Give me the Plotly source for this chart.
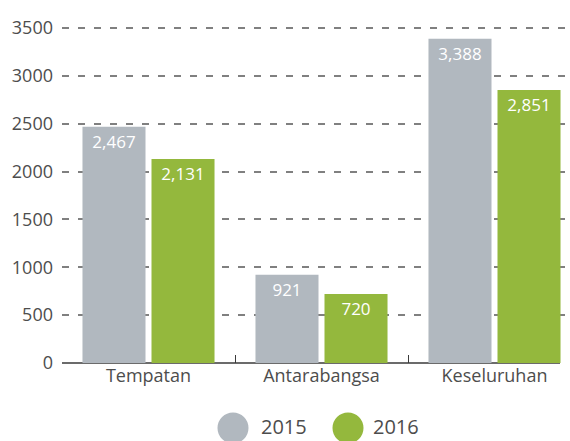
import plotly.graph_objects as go

categories = ["Tempatan", "Antarabangsa", "Keseluruhan"]
years = ["2015", "2016"]
values_2015 = [2467, 921, 3388]
values_2016 = [2131, 720, 2851]
y_ticks = [0, 500, 1000, 1500, 2000, 2500, 3000, 3500]

colors = {"2015": "#b1b8bf", "2016": "#94b83d"}
FONT = "Open Sans"
TEXT = "#4d4d4d"

W, H = 570, 441
ML, MR, MT, MB = 62, 0, 20, 78
PW, PH = W - ML - MR, H - MT - MB
# vertical scale: 3500 spans 335 px
YMAX = PH / (335 / 3500)
# category width 173 px, right side of plot clipped by the figure edge
XMAX = -0.5 + PW / 173

fig = go.Figure()
for year, vals in zip(years, [values_2015, values_2016]):
    fig.add_trace(go.Bar(
        x=categories, y=vals, name=year,
        marker=dict(color=colors[year], line=dict(width=0)),
        text=[f"{v:,}" for v in vals],
        textposition="inside", insidetextanchor="end", textangle=0,
        textfont=dict(family=FONT, size=17, color="white"),
        showlegend=False,
    ))

fig.update_layout(
    width=W, height=H,
    margin=dict(l=ML, r=MR, t=MT, b=MB),
    paper_bgcolor="white", plot_bgcolor="white",
    barmode="group", bargap=0.202, bargroupgap=0.087,
    font=dict(family=FONT, color=TEXT),
    xaxis=dict(
        range=[-0.5, XMAX], showgrid=False, showline=False,
        layer="below traces",
        ticks="inside", tickson="boundaries", ticklen=8,
        tickcolor="#3a3a3a", tickwidth=1.2,
        tickfont=dict(family=FONT, size=18, color=TEXT),
    ),
    yaxis=dict(
        range=[0, YMAX], tickvals=y_ticks,
        showgrid=True, gridcolor="#808080", gridwidth=1.5,
        griddash="7px,9px", zeroline=False, showline=False,
        ticks="", ticklabelstandoff=8,
        tickfont=dict(family=FONT, size=18, color=TEXT),
    ),
)

# baseline along the bottom of the plot, ending at the last bar's edge
fig.add_shape(
    type="line", xref="paper", yref="paper", layer="between",
    x0=0, x1=(560 - ML) / PW, y0=0, y1=0,
    line=dict(color="#3a3a3a", width=1.5),
)

# legend: round markers with year labels, centred under the plot
legend_items = [("2015", 233, 260), ("2016", 348, 372)]
for year, cx, tx in legend_items:
    xp = (cx - ML) / PW
    yp = (MT + PH - 428) / PH
    fig.add_shape(
        type="circle", xref="paper", yref="paper",
        xsizemode="pixel", ysizemode="pixel",
        xanchor=xp, yanchor=yp,
        x0=-15.5, x1=15.5, y0=-15.5, y1=15.5,
        fillcolor=colors[year], line=dict(width=0),
    )
    fig.add_annotation(
        x=(tx - ML) / PW, y=(MT + PH - H) / PH,
        xref="paper", yref="paper", xanchor="left", yanchor="bottom",
        text=year, showarrow=False, borderpad=0,
        font=dict(family=FONT, size=20, color=TEXT),
    )

fig.write_html("out.html")
